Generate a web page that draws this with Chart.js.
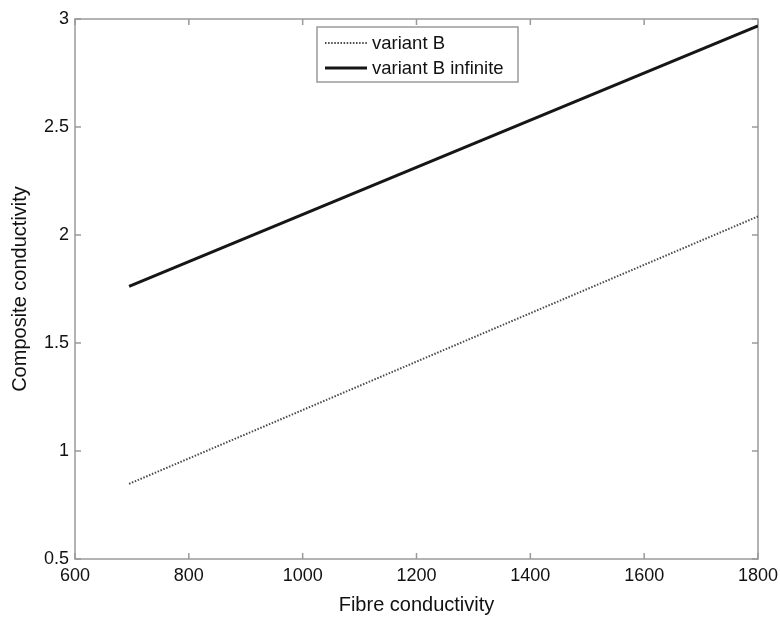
<!DOCTYPE html>
<html>
<head>
<meta charset="utf-8">
<script src="https://cdn.jsdelivr.net/npm/chart.js@4/dist/chart.umd.min.js"></script>
<style>
  body { margin: 0; background: #fff; }
  #chart { display: block; }
</style>
</head>
<body>
<canvas id="chart" width="780" height="618"></canvas>
<script>
// values (straight lines, end points)
const fibre = [695, 1800];
const variantB = [0.848, 2.086];
const variantBInfinite = [1.762, 2.968];

const xTicks = [600, 800, 1000, 1200, 1400, 1600, 1800];
const yTicks = [0.5, 1, 1.5, 2, 2.5, 3];

const FONT = '"Liberation Sans", Arial, Helvetica, sans-serif';
const AXIS_GREY = '#9a9a9a';

function toPoints(xs, ys) {
  const pts = [];
  for (let i = 0; i < xs.length; i++) {
    pts.push({x: xs[i], y: ys[i]});
  }
  return pts;
}

// matlab-like frame with inward ticks on all four sides
const frame = {
  id: 'frame',
  beforeDatasetsDraw(chart) {
    const ctx = chart.ctx;
    const a = chart.chartArea;
    const xs = chart.scales.x, ys = chart.scales.y;
    ctx.save();
    ctx.strokeStyle = AXIS_GREY;
    ctx.lineWidth = 1.5;
    ctx.strokeRect(a.left, a.top, a.right - a.left, a.bottom - a.top);
    ctx.beginPath();
    xTicks.forEach(function(v) {
      const px = xs.getPixelForValue(v);
      ctx.moveTo(px, a.bottom); ctx.lineTo(px, a.bottom - 6);
      ctx.moveTo(px, a.top); ctx.lineTo(px, a.top + 6);
    });
    yTicks.forEach(function(v) {
      const py = ys.getPixelForValue(v);
      ctx.moveTo(a.left, py); ctx.lineTo(a.left + 6, py);
      ctx.moveTo(a.right, py); ctx.lineTo(a.right - 6, py);
    });
    ctx.stroke();
    ctx.restore();
  }
};

// boxed legend inside the top of the plot
const boxLegend = {
  id: 'boxLegend',
  afterDraw(chart) {
    const ctx = chart.ctx;
    const left = 317, top = 27, w = 201, h = 55;
    ctx.save();
    ctx.fillStyle = '#fff';
    ctx.fillRect(left, top, w, h);
    ctx.strokeStyle = AXIS_GREY;
    ctx.lineWidth = 1.5;
    ctx.strokeRect(left, top, w, h);
    chart.data.datasets.forEach(function(ds, i) {
      const y = 43 + i * 25;
      ctx.beginPath();
      ctx.strokeStyle = ds.borderColor;
      ctx.lineWidth = ds.borderWidth;
      ctx.setLineDash(ds.borderDash || []);
      ctx.moveTo(325, y);
      ctx.lineTo(367, y);
      ctx.stroke();
      ctx.setLineDash([]);
      ctx.fillStyle = '#111';
      ctx.font = '18.5px ' + FONT;
      ctx.textBaseline = 'middle';
      ctx.fillText(ds.label, 372, y + 1);
    });
    ctx.restore();
  }
};

const data = {
  datasets: [{
    label: 'variant B',
    data: toPoints(fibre, variantB),
    borderColor: '#4a4a4a',
    borderWidth: 2,
    borderDash: [1.5, 1.6],
    pointRadius: 0,
    fill: false
  }, {
    label: 'variant B infinite',
    data: toPoints(fibre, variantBInfinite),
    borderColor: '#161616',
    borderWidth: 3,
    pointRadius: 0,
    fill: false
  }]
};

const config = {
  type: 'line',
  data: data,
  options: {
    responsive: false,
    animation: false,
    layout: { padding: { left: 0, top: 19, right: 22, bottom: 0 } },
    plugins: {
      legend: { display: false },
      tooltip: { enabled: false }
    },
    scales: {
      x: {
        type: 'linear',
        min: 600,
        max: 1800,
        afterFit: function(scale) {
          scale.height = 59;
          scale.paddingLeft = 0;
          scale.paddingRight = 0;
        },
        afterBuildTicks: function(scale) {
          scale.ticks = xTicks.map(function(v) { return {value: v}; });
        },
        grid: { display: false, drawTicks: false },
        border: { display: false },
        ticks: {
          padding: 6,
          color: '#111',
          font: { family: FONT, size: 18 },
          maxRotation: 0,
          callback: function(v) { return String(v); }
        },
        title: {
          display: true,
          text: 'Fibre conductivity',
          color: '#111',
          font: { family: FONT, size: 20 },
          padding: { top: 0, bottom: 1 }
        }
      },
      y: {
        type: 'linear',
        min: 0.5,
        max: 3,
        afterFit: function(scale) {
          scale.width = 75;
          scale.paddingTop = 0;
          scale.paddingBottom = 0;
        },
        afterBuildTicks: function(scale) {
          scale.ticks = yTicks.map(function(v) { return {value: v}; });
        },
        grid: { display: false, drawTicks: false },
        border: { display: false },
        ticks: {
          padding: 6,
          color: '#111',
          font: { family: FONT, size: 18 },
          callback: function(v) { return String(v); }
        },
        title: {
          display: true,
          text: 'Composite conductivity',
          color: '#111',
          font: { family: FONT, size: 20 },
          padding: { top: 8, bottom: 0 }
        }
      }
    }
  },
  plugins: [frame, boxLegend]
};

const myChart = new Chart(
  document.getElementById('chart'),
  config
);
</script>
</body>
</html>
